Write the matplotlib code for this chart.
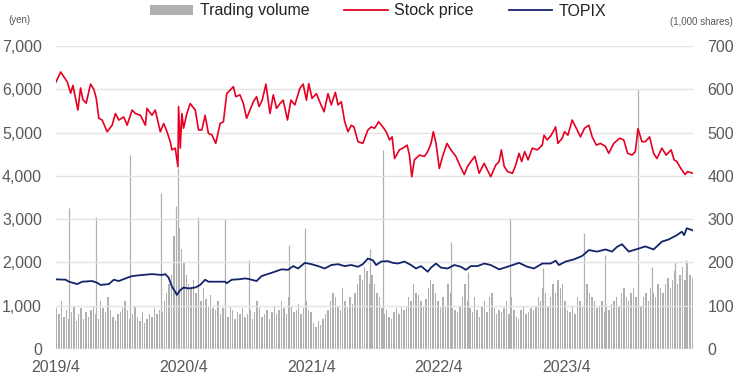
"""
Stock price vs TOPIX with daily trading volume (2019/4 - 2024/3).
Values are read off the reference chart.
"""
import numpy as np
import pandas as pd
import matplotlib
matplotlib.use("Agg")
import matplotlib.pyplot as plt
from matplotlib.patches import Patch
from matplotlib.lines import Line2D

plt.rcParams["font.family"] = ["Liberation Sans", "DejaVu Sans"]

START = pd.Timestamp("2019-04-01")
END = pd.Timestamp("2024-03-29")

# ── stock price (yen) at months since 2019/4 ───────────────────────────────
price_month = [
    0.0, 0.44, 1.06, 1.38, 1.59, 2.06, 2.31, 2.53, 2.84, 3.25, 3.56, 3.78,
    4.03, 4.34, 4.81, 5.28, 5.59, 5.91, 6.38, 6.69, 7.16, 7.47, 7.94, 8.41,
    8.56, 9.03, 9.34, 9.81, 10.13, 10.44, 10.75, 10.91, 11.22, 11.47, 11.53,
    11.69, 11.84, 12.0, 12.31, 12.63, 13.1, 13.41, 13.72, 14.03, 14.34,
    14.66, 15.03, 15.44, 15.75, 16.06, 16.69, 16.91, 17.31, 17.63, 17.93,
    18.25, 18.56, 18.87, 19.1, 19.4, 19.75, 20.13, 20.44, 20.75, 21.07,
    21.37, 21.78, 22.1, 22.47, 22.94, 23.25, 23.56, 23.78, 24.09, 24.5,
    24.81, 25.22, 25.59, 25.9, 26.28, 26.53, 26.84, 27.16, 27.47, 27.78,
    28.03, 28.41, 28.87, 29.34, 29.65, 29.97, 30.35, 30.75, 31.06, 31.38,
    31.62, 31.85, 32.31, 32.62, 33.03, 33.25, 33.47, 33.72, 34.19, 34.66,
    34.97, 35.28, 35.5, 35.75, 36.06, 36.37, 36.78, 37.15, 37.62, 38.03,
    38.41, 38.72, 39.03, 39.4, 39.81, 40.28, 40.9, 41.37, 41.69, 41.9,
    42.16, 42.47, 42.94, 43.25, 43.56, 43.81, 44.09, 44.41, 44.81, 45.28,
    45.75, 45.91, 46.22, 46.59, 47.0, 47.22, 47.62, 47.84, 48.16, 48.56,
    49.03, 49.34, 49.72, 50.13, 50.44, 50.84, 51.22, 51.69, 52.0, 52.47,
    53.03, 53.41, 53.78, 54.19, 54.5, 54.75, 55.12, 55.44, 55.84, 56.22,
    56.53, 57.0, 57.4, 57.87, 58.15, 58.41, 58.78, 59.19, 59.41, 59.9,
]
price = [
    6170, 6400, 6170, 5910, 6090, 5520, 6030, 5760, 5680, 6120, 6000, 5800,
    5330, 5290, 5020, 5170, 5440, 5290, 5360, 5170, 5520, 5440, 5400, 5170,
    5560, 5400, 5520, 5020, 5210, 5020, 4790, 4600, 4640, 4210, 5600,
    4640, 5440, 5100, 5440, 5670, 5520, 5060, 5060, 5400, 4980,
    4950, 4750, 5210, 5250, 5900, 6060, 5830, 5870, 5670, 5330,
    5520, 5710, 5830, 5600, 5750, 6120, 5440, 5870, 5560, 5670,
    5750, 5290, 5750, 5640, 6020, 6120, 5750, 6130, 5790, 5900,
    5710, 5480, 5900, 5640, 5930, 5640, 5710, 5250, 5020, 5170,
    5130, 4790, 4750, 5060, 5130, 5100, 5250, 5130, 5020, 4830,
    4900, 4400, 4600, 4640, 4710, 4480, 3980, 4370, 4480, 4450,
    4560, 4750, 5020, 4750, 4170, 4450, 4750, 4600, 4450, 4220,
    4030, 4220, 4330, 4450, 4060, 4290, 3980, 4250, 4330, 4600,
    4220, 4100, 4060, 4250, 4520, 4330, 4560, 4370, 4640, 4600,
    4710, 4940, 4830, 4940, 5130, 4750, 4870, 5020, 4940, 5290,
    5060, 4900, 5100, 5170, 4900, 4710, 4750, 4680, 4520, 4750,
    4870, 4830, 4520, 4480, 4560, 5090, 4790, 4790, 4900, 4520,
    4400, 4640, 4480, 4600, 4370, 4330, 4170, 4030, 4100, 4060,
]

# ── TOPIX (plotted on the yen axis) ────────────────────────────────────────
topix_month = [
    0.0, 0.91, 1.22, 2.0, 2.47, 3.4, 3.87, 4.19, 4.97, 5.44, 5.91, 6.53,
    7.16, 8.09, 9.03, 9.97, 10.28, 10.59, 10.91, 11.22, 11.37, 11.69, 12.0,
    12.47, 13.1, 13.56, 14.03, 14.34, 14.97, 15.91, 16.06, 16.53, 17.16,
    17.78, 18.09, 18.87, 19.34, 20.28, 21.22, 21.84, 22.31, 22.78, 23.41,
    24.03, 24.66, 25.28, 25.9, 26.53, 27.16, 27.78, 28.41, 28.87, 29.34,
    29.81, 30.12, 30.59, 31.22, 31.69, 32.16, 32.78, 33.4, 33.87, 34.34,
    34.97, 35.28, 35.75, 36.22, 36.84, 37.47, 38.09, 38.56, 39.03, 39.66,
    40.28, 40.9, 41.69, 42.47, 43.56, 44.34, 44.97, 45.75, 46.53, 47.0,
    47.31, 47.94, 48.72, 49.5, 50.13, 50.91, 51.69, 52.31, 52.78, 53.25,
    53.88, 54.34, 54.81, 55.44, 56.22, 57.0, 57.63, 58.41, 58.88, 59.09,
    59.34, 59.9,
]
topix = [
    1610, 1600, 1555, 1500, 1555, 1570, 1530, 1480, 1500, 1600, 1570, 1630,
    1685, 1710, 1730, 1710, 1730, 1650, 1440, 1320, 1250, 1360, 1420,
    1400, 1420, 1480, 1600, 1555, 1555, 1555, 1520, 1600, 1610,
    1630, 1620, 1570, 1685, 1760, 1840, 1830, 1915, 1860, 1990,
    1960, 1915, 1860, 1940, 1960, 1915, 1940, 1900, 1960, 2090,
    2050, 1940, 2020, 2030, 1990, 1975, 2020, 1940, 1860, 1915,
    1785, 1880, 1975, 1880, 1860, 1940, 1900, 1830, 1915, 1915,
    1975, 1940, 1840, 1900, 1990, 1900, 1860, 1975, 1975, 2040,
    1940, 2020, 2070, 2150, 2285, 2250, 2300, 2250, 2360, 2420,
    2250, 2285, 2320, 2370, 2300, 2480, 2530, 2630, 2710, 2630,
    2790, 2740,
]

# ── trading volume (1,000 shares), weekly, one row per quarter ────────────
volume = [
    95, 80, 110, 75, 90, 70, 85, 100, 65, 80, 95, 70, 85,
    75, 90, 100, 80, 70, 110, 95, 85, 120, 90, 75, 65, 80,
    85, 95, 110, 90, 70, 80, 100, 75, 65, 85, 60, 70, 80,
    75, 95, 80, 90, 85, 110, 130, 150, 170, 260, 300, 280, 230,
    200, 170, 150, 140, 160, 130, 120, 110, 140, 115, 100, 125, 95,
    90, 110, 80, 95, 85, 75, 100, 90, 70, 85, 80, 95, 75,
    80, 90, 70, 85, 110, 95, 75, 80, 90, 70, 85, 100, 80,
    90, 110, 95, 80, 120, 100, 85, 90, 105, 80, 95, 110, 90,
    85, 60, 50, 65, 55, 70, 80, 90, 110, 130, 120, 100, 90,
    140, 110, 95, 120, 105, 130, 150, 170, 160, 190, 180, 150, 170,
    150, 130, 120, 95, 80, 90, 75, 70, 85, 95, 80, 100, 90,
    100, 120, 110, 150, 130, 125, 110, 100, 115, 140, 160, 150, 130,
    110, 95, 120, 100, 150, 130, 95, 90, 85, 100, 120, 150, 110,
    95, 85, 120, 90, 75, 100, 110, 85, 120, 130, 95, 80, 90,
    85, 95, 110, 80, 120, 90, 75, 70, 90, 100, 80, 85, 95,
    90, 100, 120, 110, 140, 130, 100, 120, 150, 130, 160, 140, 150,
    110, 90, 85, 100, 80, 120, 110, 100, 140, 150, 130, 120, 110,
    95, 100, 110, 85, 100, 90, 105, 110, 120, 100, 130, 140, 120,
    110, 130, 140, 120, 110, 100, 120, 130, 110, 140, 130, 120, 150,
    140, 130, 150, 165, 140, 160, 180, 150, 170, 190, 160, 200, 170,
    165,
]
spike_dates = [
    "2019-05-08", "2019-07-25", "2019-10-29", "2020-01-28", "2020-03-10",
    "2020-03-16", "2020-05-11", "2020-07-28", "2020-10-05", "2021-01-28",
    "2021-03-13", "2021-09-16", "2021-10-23", "2022-05-07", "2022-06-23",
    "2022-10-22", "2023-01-25", "2023-05-21", "2023-07-22", "2023-10-23",
    "2023-12-02", "2024-02-06", "2024-03-08",
]
spike_volume = [
    325, 305, 448, 360, 330, 418, 305, 300, 205, 240, 279, 231, 460, 248,
    178, 302, 186, 267, 217, 598, 190, 200, 205,
]

x_ticks = ["2019-04-01", "2020-04-01", "2021-04-01", "2022-04-01", "2023-04-01"]
x_labels = ["2019/4", "2020/4", "2021/4", "2022/4", "2023/4"]
yen_ticks = [0, 1000, 2000, 3000, 4000, 5000, 6000, 7000]
vol_ticks = [0, 100, 200, 300, 400, 500, 600, 700]

RED = "#e60023"
NAVY = "#13246b"
GRAY = "#b0b0b0"
TXT = "#595959"


def month_to_date(m):
    return START + pd.to_timedelta(np.asarray(m) * 30.4375, unit="D")


fig = plt.figure(figsize=(7.38, 3.76), dpi=100)
ax = fig.add_axes([56 / 738, 1 - 349 / 376, (693 - 56) / 738, (349 - 46) / 376])
ax2 = ax.twinx()

# volume on the right axis, drawn behind the lines
vol_dates = pd.date_range(START, periods=len(volume), freq="7D")
ax2.bar(vol_dates, volume, width=4.0, color=GRAY, linewidth=0, align="edge")
ax2.vlines(pd.to_datetime(spike_dates), 0, spike_volume, color=GRAY, lw=0.9)
ax2.set_ylim(0, 700)
ax2.set_yticks(vol_ticks)
ax2.set_yticklabels([f"{v:,}" for v in vol_ticks])

ax.set_zorder(ax2.get_zorder() + 1)
ax.patch.set_visible(False)

ax.plot(month_to_date(price_month), price, color=RED, lw=1.2)
ax.plot(month_to_date(topix_month), topix, color=NAVY, lw=1.3)
ax.set_ylim(0, 7000)
ax.set_yticks(yen_ticks)
ax.set_yticklabels([f"{v:,}" for v in yen_ticks])
ax.set_xlim(START, END)
ax.set_xticks(pd.to_datetime(x_ticks))
ax.set_xticklabels(x_labels)

for a in (ax, ax2):
    for s in a.spines.values():
        s.set_visible(False)
    a.tick_params(length=0, labelsize=11.5, colors=TXT)
ax.tick_params(axis="y", pad=10)
ax2.tick_params(axis="y", pad=10.5)
ax.tick_params(axis="x", pad=8)

for v in yen_ticks:
    ax.axhline(v, color="#e3e3e3", lw=1.0, zorder=0)
ax2.axhline(0, color="#d0d0d0", lw=1.0)

fig.text(8 / 738, 1 - 20 / 376, "(yen)", fontsize=7, color=TXT, va="center")
fig.text(733 / 738, 1 - 22 / 376, "(1,000 shares)", fontsize=7, color=TXT,
         va="center", ha="right")

# legend
handles = [
    Patch(facecolor=GRAY, edgecolor="none"),
    Line2D([], [], color=RED, lw=1.3),
    Line2D([], [], color=NAVY, lw=1.3),
]
fig.legend(handles, ["Trading volume", "Stock price", "TOPIX"], loc="center",
           bbox_to_anchor=(378 / 738, 1 - 11 / 376), ncol=3, frameon=False,
           fontsize=11.5, handlelength=2.7, handleheight=0.6, columnspacing=2.2,
           handletextpad=0.4, labelcolor="#222222")

fig.savefig("out.png", dpi=100)
